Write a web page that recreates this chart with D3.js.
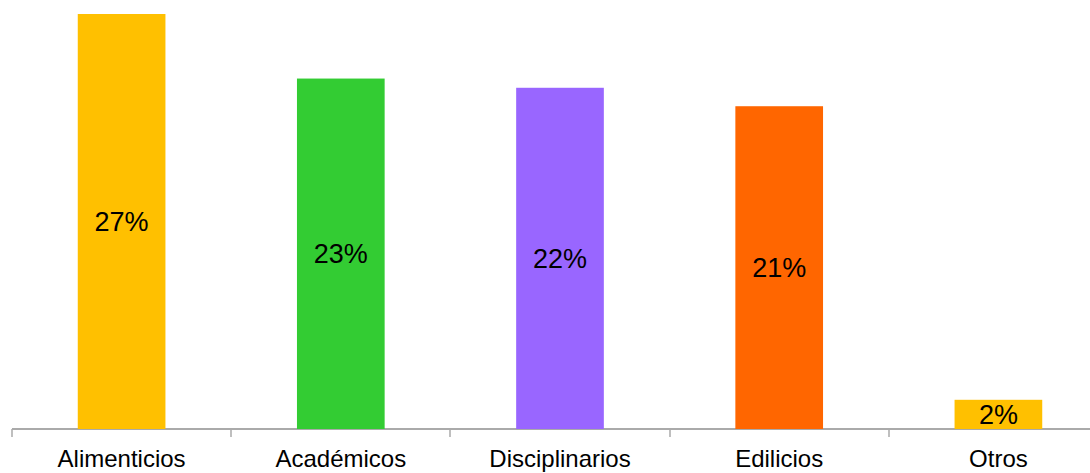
<!DOCTYPE html>
<html>
<head>
<meta charset="utf-8">
<script src="https://cdn.jsdelivr.net/npm/d3@7"></script>
<style>
  html, body { margin: 0; padding: 0; background: #fff; }
  svg { display: block; }
</style>
</head>
<body>
<svg id="chart" width="1090" height="473"></svg>
<script>
const categories = ["Alimenticios", "Académicos", "Disciplinarios", "Edilicios", "Otros"];
const values = [27.0, 22.8, 22.2, 21.0, 1.9];
const valueLabels = ["27%", "23%", "22%", "21%", "2%"];
const colors = ["#FFC000", "#33CC33", "#9966FF", "#FF6600", "#FFC000"];

const svg = d3.select("#chart");
const baseY = 429;

const x = d3.scaleBand()
  .domain(categories)
  .range([12, 1108])
  .paddingInner(0.6)
  .paddingOuter(0.3);

const y = d3.scaleLinear()
  .domain([0, 27])
  .range([baseY, 14]);

const data = categories.map((c, i) => ({ c, v: values[i], label: valueLabels[i], color: colors[i] }));

// axis line
svg.append("line")
  .attr("x1", 12).attr("x2", 1090)
  .attr("y1", baseY).attr("y2", baseY)
  .attr("stroke", "#aaaaaa").attr("stroke-width", 2);

// tick marks at band boundaries
const step = x.step();
const tickXs = d3.range(categories.length + 1).map(i => 12 + i * step);
svg.selectAll("line.tick")
  .data(tickXs)
  .enter().append("line")
  .attr("class", "tick")
  .attr("x1", d => Math.round(d)).attr("x2", d => Math.round(d))
  .attr("y1", baseY).attr("y2", baseY + 8)
  .attr("stroke", "#aaaaaa").attr("stroke-width", 1.5);

// bars
svg.selectAll("rect.bar")
  .data(data)
  .enter().append("rect")
  .attr("class", "bar")
  .attr("x", d => x(d.c))
  .attr("width", x.bandwidth())
  .attr("y", d => y(d.v))
  .attr("height", d => baseY - y(d.v))
  .attr("fill", d => d.color);

// value labels
svg.selectAll("text.val")
  .data(data)
  .enter().append("text")
  .attr("class", "val")
  .attr("x", d => x(d.c) + x.bandwidth() / 2)
  .attr("y", d => (y(d.v) + baseY) / 2)
  .attr("dy", "0.36em")
  .attr("text-anchor", "middle")
  .attr("font-family", "'Liberation Sans', Arial, sans-serif")
  .attr("font-size", 27)
  .attr("fill", "#000")
  .text(d => d.label);

// category labels
svg.selectAll("text.cat")
  .data(data)
  .enter().append("text")
  .attr("class", "cat")
  .attr("x", d => x(d.c) + x.bandwidth() / 2)
  .attr("y", 467)
  .attr("text-anchor", "middle")
  .attr("font-family", "'Liberation Sans', Arial, sans-serif")
  .attr("font-size", 24)
  .attr("fill", "#000")
  .text(d => d.c);
</script>
</body>
</html>
